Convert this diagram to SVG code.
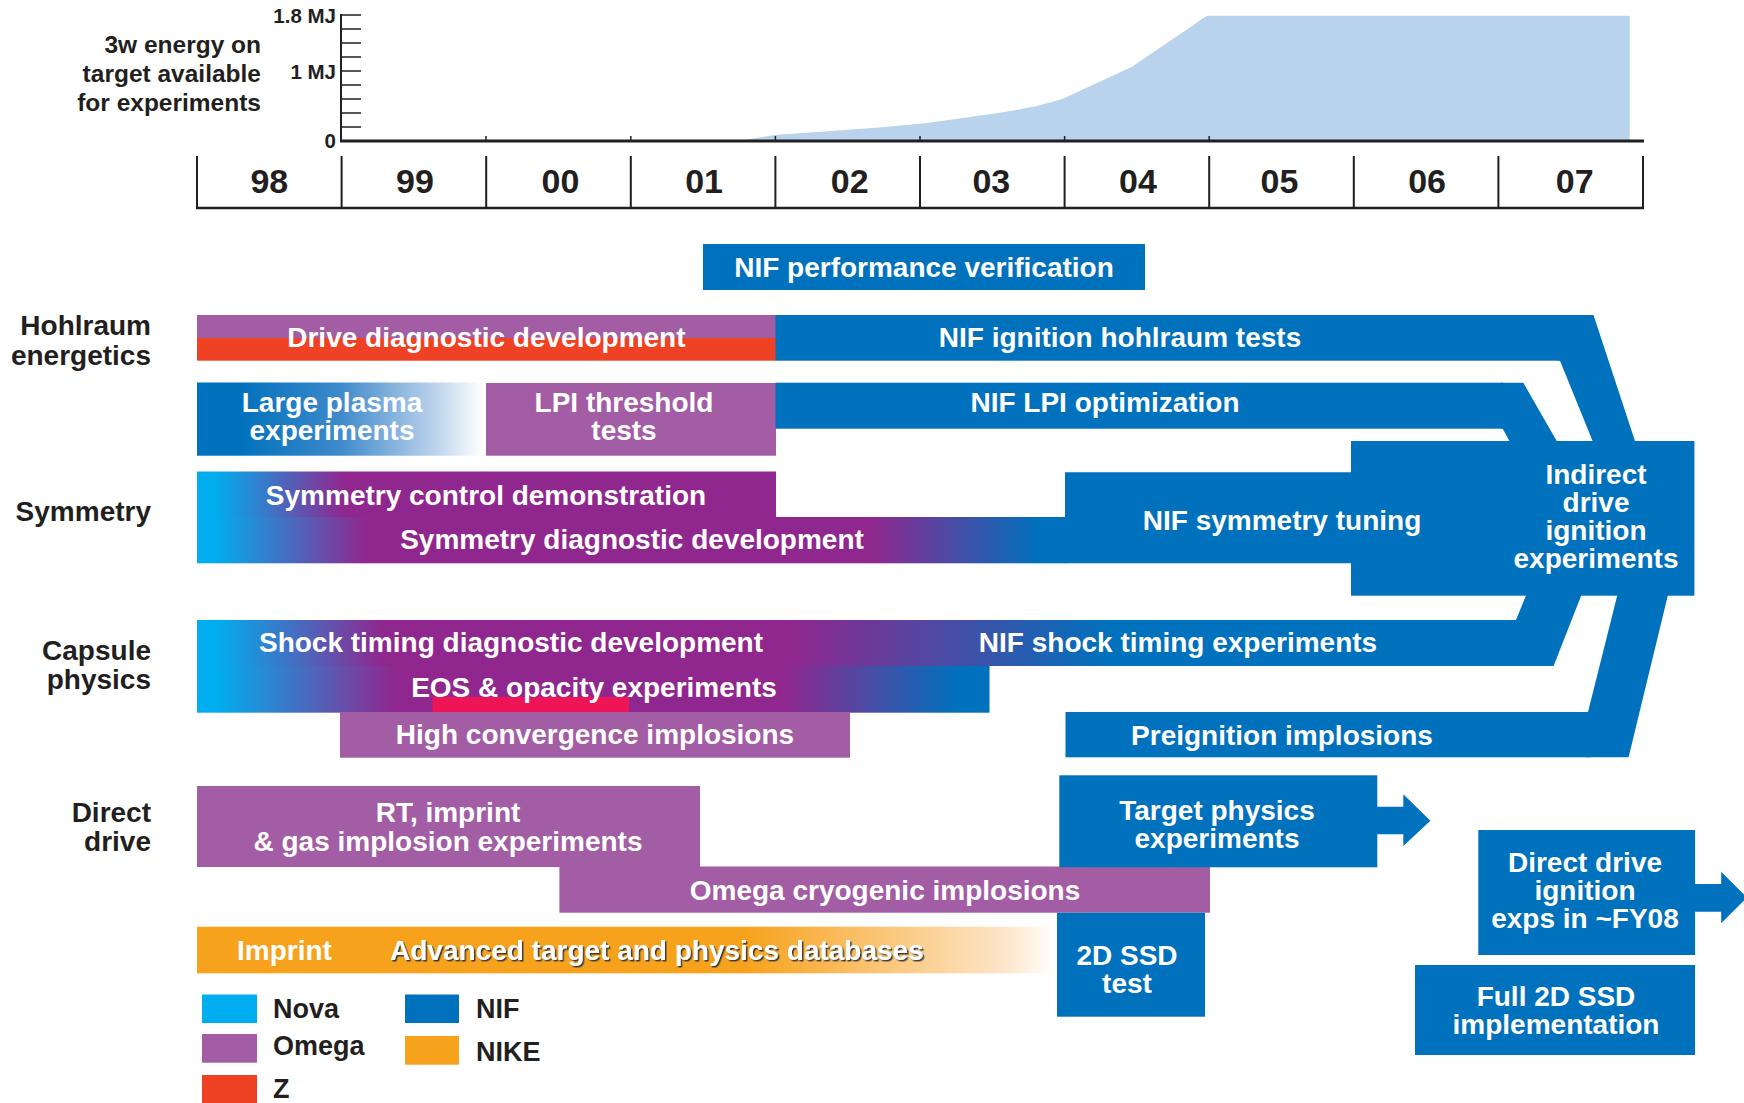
<svg xmlns="http://www.w3.org/2000/svg" width="1744" height="1103" viewBox="0 0 1744 1103">
<defs>
<style>
text{font-family:'Liberation Sans',Arial,Helvetica,sans-serif;font-weight:bold}
.w{fill:#fff;font-size:28px;text-anchor:middle}
.d{fill:#231F20;font-size:28px;text-anchor:end}
.lg{fill:#231F20;font-size:27px}
.ax{fill:#231F20;font-size:20.5px;text-anchor:end}
.cl{fill:#231F20;font-size:24.5px;text-anchor:end}
.yr{fill:#231F20;font-size:34px;text-anchor:middle}
.nif{fill:#0071BC}
.om{fill:#A25DA5}
.z{fill:#EF4123}
.nova{fill:#00AEEF}
.nike{fill:#F7A21D}
.ln{stroke:#231F20;fill:none}
</style>
<linearGradient id="gLP" gradientUnits="userSpaceOnUse" x1="197" y1="0" x2="483" y2="0">
<stop offset="0" stop-color="#0071BC"/><stop offset="0.15" stop-color="#0071BC"/><stop offset="0.5" stop-color="#3E8ACB"/><stop offset="0.8" stop-color="#B0CBE8"/><stop offset="1" stop-color="#FFFFFF"/>
</linearGradient>
<linearGradient id="gSC" gradientUnits="userSpaceOnUse" x1="197" y1="0" x2="776" y2="0">
<stop offset="0" stop-color="#00AEEF"/><stop offset="0.03" stop-color="#00AEEF"/><stop offset="0.254" stop-color="#90278E"/><stop offset="1" stop-color="#90278E"/>
</linearGradient>
<linearGradient id="gSD" gradientUnits="userSpaceOnUse" x1="197" y1="0" x2="1065" y2="0">
<stop offset="0" stop-color="#00AEEF"/><stop offset="0.02" stop-color="#00AEEF"/><stop offset="0.195" stop-color="#90278E"/><stop offset="0.775" stop-color="#90278E"/><stop offset="0.97" stop-color="#0071BC"/><stop offset="1" stop-color="#0071BC"/>
</linearGradient>
<linearGradient id="gST" gradientUnits="userSpaceOnUse" x1="197" y1="0" x2="1520" y2="0">
<stop offset="0" stop-color="#00AEEF"/><stop offset="0.014" stop-color="#00AEEF"/><stop offset="0.141" stop-color="#90278E"/><stop offset="0.448" stop-color="#90278E"/><stop offset="0.69" stop-color="#0071BC"/><stop offset="1" stop-color="#0071BC"/>
</linearGradient>
<linearGradient id="gEO" gradientUnits="userSpaceOnUse" x1="197" y1="0" x2="989.5" y2="0">
<stop offset="0" stop-color="#00AEEF"/><stop offset="0.025" stop-color="#00AEEF"/><stop offset="0.25" stop-color="#90278E"/><stop offset="0.74" stop-color="#90278E"/><stop offset="0.96" stop-color="#0071BC"/><stop offset="1" stop-color="#0071BC"/>
</linearGradient>
<linearGradient id="gNK" gradientUnits="userSpaceOnUse" x1="197" y1="0" x2="1055" y2="0">
<stop offset="0" stop-color="#F7A21D"/><stop offset="0.64" stop-color="#F7A21D"/><stop offset="0.94" stop-color="#FDE5C8"/><stop offset="1" stop-color="#FFFFFF"/>
</linearGradient>
<filter id="sh" x="-5%" y="-30%" width="110%" height="160%">
<feDropShadow dx="1.5" dy="1.5" stdDeviation="0.6" flood-color="#333333" flood-opacity="0.95"/>
</filter>
</defs>

<g id="chart">
<polygon points="738,141 774,135 870,128.3 925.7,123.3 1006.6,111.7 1037,106 1062.3,99 1132,66.7 1207,15.7 1629.8,15.7 1629.8,141" fill="#B9D3EC"/>
<line class="ln" x1="341" y1="14" x2="341" y2="142" stroke-width="2"/>
<path class="ln" stroke-width="1.5" d="M341,15H361M341,29H361M341,43H361M341,57H361M341,71H361M341,85H361M341,99H361M341,113H361M341,127H361"/>
<path class="ln" stroke-width="1.5" d="M486,136V141M630.8,136V141M775.4,136V141M920,136V141M1064.6,136V141M1209.2,136V141"/>
<line class="ln" x1="340" y1="141" x2="1644" y2="141" stroke-width="3"/>
<text class="ax" x="336" y="23">1.8 MJ</text>
<text class="ax" x="336" y="79">1 MJ</text>
<text class="ax" x="336" y="148">0</text>
<text class="cl" x="261" y="53">3w energy on</text>
<text class="cl" x="261" y="82">target available</text>
<text class="cl" x="261" y="110.5">for experiments</text>
</g>

<g id="years">
<path class="ln" stroke-width="2" d="M197,156V208M341.6,156V208M486.2,156V208M630.8,156V208M775.4,156V208M920,156V208M1064.6,156V208M1209.2,156V208M1353.8,156V208M1498.4,156V208M1643,156V208"/>
<line class="ln" x1="196" y1="208" x2="1644" y2="208" stroke-width="2.5"/>
<text class="yr" x="269.3" y="193">98</text>
<text class="yr" x="414.9" y="193">99</text>
<text class="yr" x="560.5" y="193">00</text>
<text class="yr" x="704.1" y="193">01</text>
<text class="yr" x="849.7" y="193">02</text>
<text class="yr" x="991.3" y="193">03</text>
<text class="yr" x="1137.9" y="193">04</text>
<text class="yr" x="1279.5" y="193">05</text>
<text class="yr" x="1427.1" y="193">06</text>
<text class="yr" x="1574.7" y="193">07</text>
</g>

<g id="row-labels">
<text class="d" x="151" y="335">Hohlraum</text>
<text class="d" x="151" y="365">energetics</text>
<text class="d" x="151" y="521">Symmetry</text>
<text class="d" x="151" y="660">Capsule</text>
<text class="d" x="151" y="689">physics</text>
<text class="d" x="151" y="822">Direct</text>
<text class="d" x="151" y="851">drive</text>
</g>

<g id="nif-performance-verification">
<rect class="nif" x="703" y="244" width="442" height="46"/>
<text class="w" x="924" y="277">NIF performance verification</text>
</g>

<g id="drive-diagnostic-development">
<rect class="om" x="197" y="315" width="579" height="23"/>
<rect class="z" x="197" y="338" width="579" height="22.7"/>
<text class="w" x="486.4" y="347">Drive diagnostic development</text>
</g>

<g id="nif-ignition-hohlraum-tests">
<rect class="nif" x="775.5" y="315" width="785" height="45.7"/>
<text class="w" x="1120" y="347">NIF ignition hohlraum tests</text>
</g>

<g id="large-plasma-experiments">
<rect x="197" y="382.5" width="286" height="73.2" fill="url(#gLP)"/>
<text class="w" x="332" y="411.5">Large plasma</text>
<text class="w" x="332" y="440">experiments</text>
</g>

<g id="lpi-threshold-tests">
<rect class="om" x="486" y="383" width="290" height="72.7"/>
<text class="w" x="624" y="411.5">LPI threshold</text>
<text class="w" x="624" y="440">tests</text>
</g>

<g id="nif-lpi-optimization">
<rect class="nif" x="775.5" y="382.7" width="728" height="46"/>
<text class="w" x="1105" y="411.5">NIF LPI optimization</text>
</g>

<g id="symmetry-control-demonstration">
<rect x="197" y="471.5" width="579" height="45.7" fill="url(#gSC)"/>
<text class="w" x="486" y="505">Symmetry control demonstration</text>
</g>

<g id="symmetry-diagnostic-development">
<rect x="197" y="517" width="869" height="46.3" fill="url(#gSD)"/>
<text class="w" x="632" y="549">Symmetry diagnostic development</text>
</g>

<g id="indirect-drive-ignition">
<rect class="nif" x="1351" y="441" width="343.4" height="154.7"/>
<text class="w" x="1596" y="484">Indirect</text>
<text class="w" x="1596" y="512">drive</text>
<text class="w" x="1596" y="540">ignition</text>
<text class="w" x="1596" y="568">experiments</text>
</g>

<g id="nif-symmetry-tuning">
<polygon class="nif" points="1065,472.3 1352,472.3 1352,563.3 1065,563.3"/>
<text class="w" x="1282" y="530">NIF symmetry tuning</text>
</g>

<g id="shock-timing-diagnostic">
<rect x="197" y="620" width="784" height="46" fill="url(#gST)"/>
<text class="w" x="511" y="652">Shock timing diagnostic development</text>
</g>

<g id="nif-shock-timing">
<rect x="980" y="620" width="540" height="46" fill="url(#gST)"/>
<text class="w" x="1178" y="652">NIF shock timing experiments</text>
</g>

<g id="eos-opacity">
<rect x="197" y="666" width="792.5" height="46.7" fill="url(#gEO)"/>
<rect x="432.5" y="697" width="196.5" height="15.5" fill="#ED1556"/>
<text class="w" x="594" y="697">EOS &amp; opacity experiments</text>
</g>

<g id="high-convergence">
<rect class="om" x="340" y="712" width="510" height="45.7"/>
<text class="w" x="595" y="744">High convergence implosions</text>
</g>

<g id="preignition">
<rect class="nif" x="1065.5" y="712" width="524" height="45.3"/>
<text class="w" x="1282" y="745">Preignition implosions</text>
</g>

<g id="rt-imprint">
<rect class="om" x="197" y="786" width="503" height="81"/>
<text class="w" x="448" y="822">RT, imprint</text>
<text class="w" x="448" y="850.5">&amp; gas implosion experiments</text>
</g>

<g id="omega-cryogenic">
<rect class="om" x="559.4" y="866.5" width="650.6" height="46.2"/>
<text class="w" x="885" y="900">Omega cryogenic implosions</text>
</g>

<g id="target-physics">
<rect class="nif" x="1059.3" y="775.3" width="318" height="92"/>
<text class="w" x="1217" y="820">Target physics</text>
<text class="w" x="1217" y="848">experiments</text>
</g>

<g id="ssd-test">
<rect class="nif" x="1057" y="912.7" width="148" height="104"/>
<text class="w" x="1127" y="965">2D SSD</text>
<text class="w" x="1127" y="993">test</text>
</g>

<g id="direct-drive-ignition">
<rect class="nif" x="1478.3" y="830" width="216.8" height="125"/>
<text class="w" x="1585" y="872">Direct drive</text>
<text class="w" x="1585" y="900">ignition</text>
<text class="w" x="1585" y="928">exps in ~FY08</text>
</g>

<g id="full-2d-ssd">
<rect class="nif" x="1415" y="965" width="280" height="90"/>
<text class="w" x="1556" y="1006">Full 2D SSD</text>
<text class="w" x="1556" y="1034">implementation</text>
</g>

<g id="imprint-databases">
<rect x="197" y="926.7" width="858" height="46.6" fill="url(#gNK)"/>
<text x="237" y="960" fill="#fff" font-size="28">Imprint</text>
<text x="390" y="960" fill="#fff" font-size="28" filter="url(#sh)">Advanced target and physics databases</text>
</g>

<g id="connectors">
<polygon class="nif" points="1558,315 1593.5,315 1635.3,442 1593,442 1560,360.7 1558,360.7"/>
<polygon class="nif" points="1501,382.7 1523.3,382.7 1557.3,442 1510,442 1502.7,428.7 1501,428.7"/>
<polygon class="nif" points="1514,620 1516,620 1526.3,594.7 1581.5,594.7 1553.6,666 1514,666"/>
<polygon class="nif" points="1586,712 1588,712 1617.4,594.7 1668,594.7 1628.6,757.3 1586,757.3"/>
<polygon class="nif" points="1376,806.7 1403.3,806.7 1403.3,794.3 1430.4,820.7 1403.3,846 1403.3,834.3 1376,834.3"/>
<polygon class="nif" points="1694,884 1721.2,884 1721.2,871.7 1747,897.5 1721.2,923.3 1721.2,911.7 1694,911.7"/>
</g>

<g id="legend">
<rect class="nova" x="202" y="994.5" width="55" height="28.5"/>
<rect class="om" x="202" y="1034" width="55" height="28.7"/>
<rect class="z" x="202" y="1075" width="55" height="28"/>
<rect class="nif" x="405" y="994.5" width="54" height="28.5"/>
<rect class="nike" x="405" y="1036" width="54" height="28.7"/>
<text class="lg" x="273" y="1018">Nova</text>
<text class="lg" x="273" y="1055">Omega</text>
<text class="lg" x="273" y="1098">Z</text>
<text class="lg" x="476" y="1018">NIF</text>
<text class="lg" x="476" y="1060.5">NIKE</text>
</g>
</svg>
